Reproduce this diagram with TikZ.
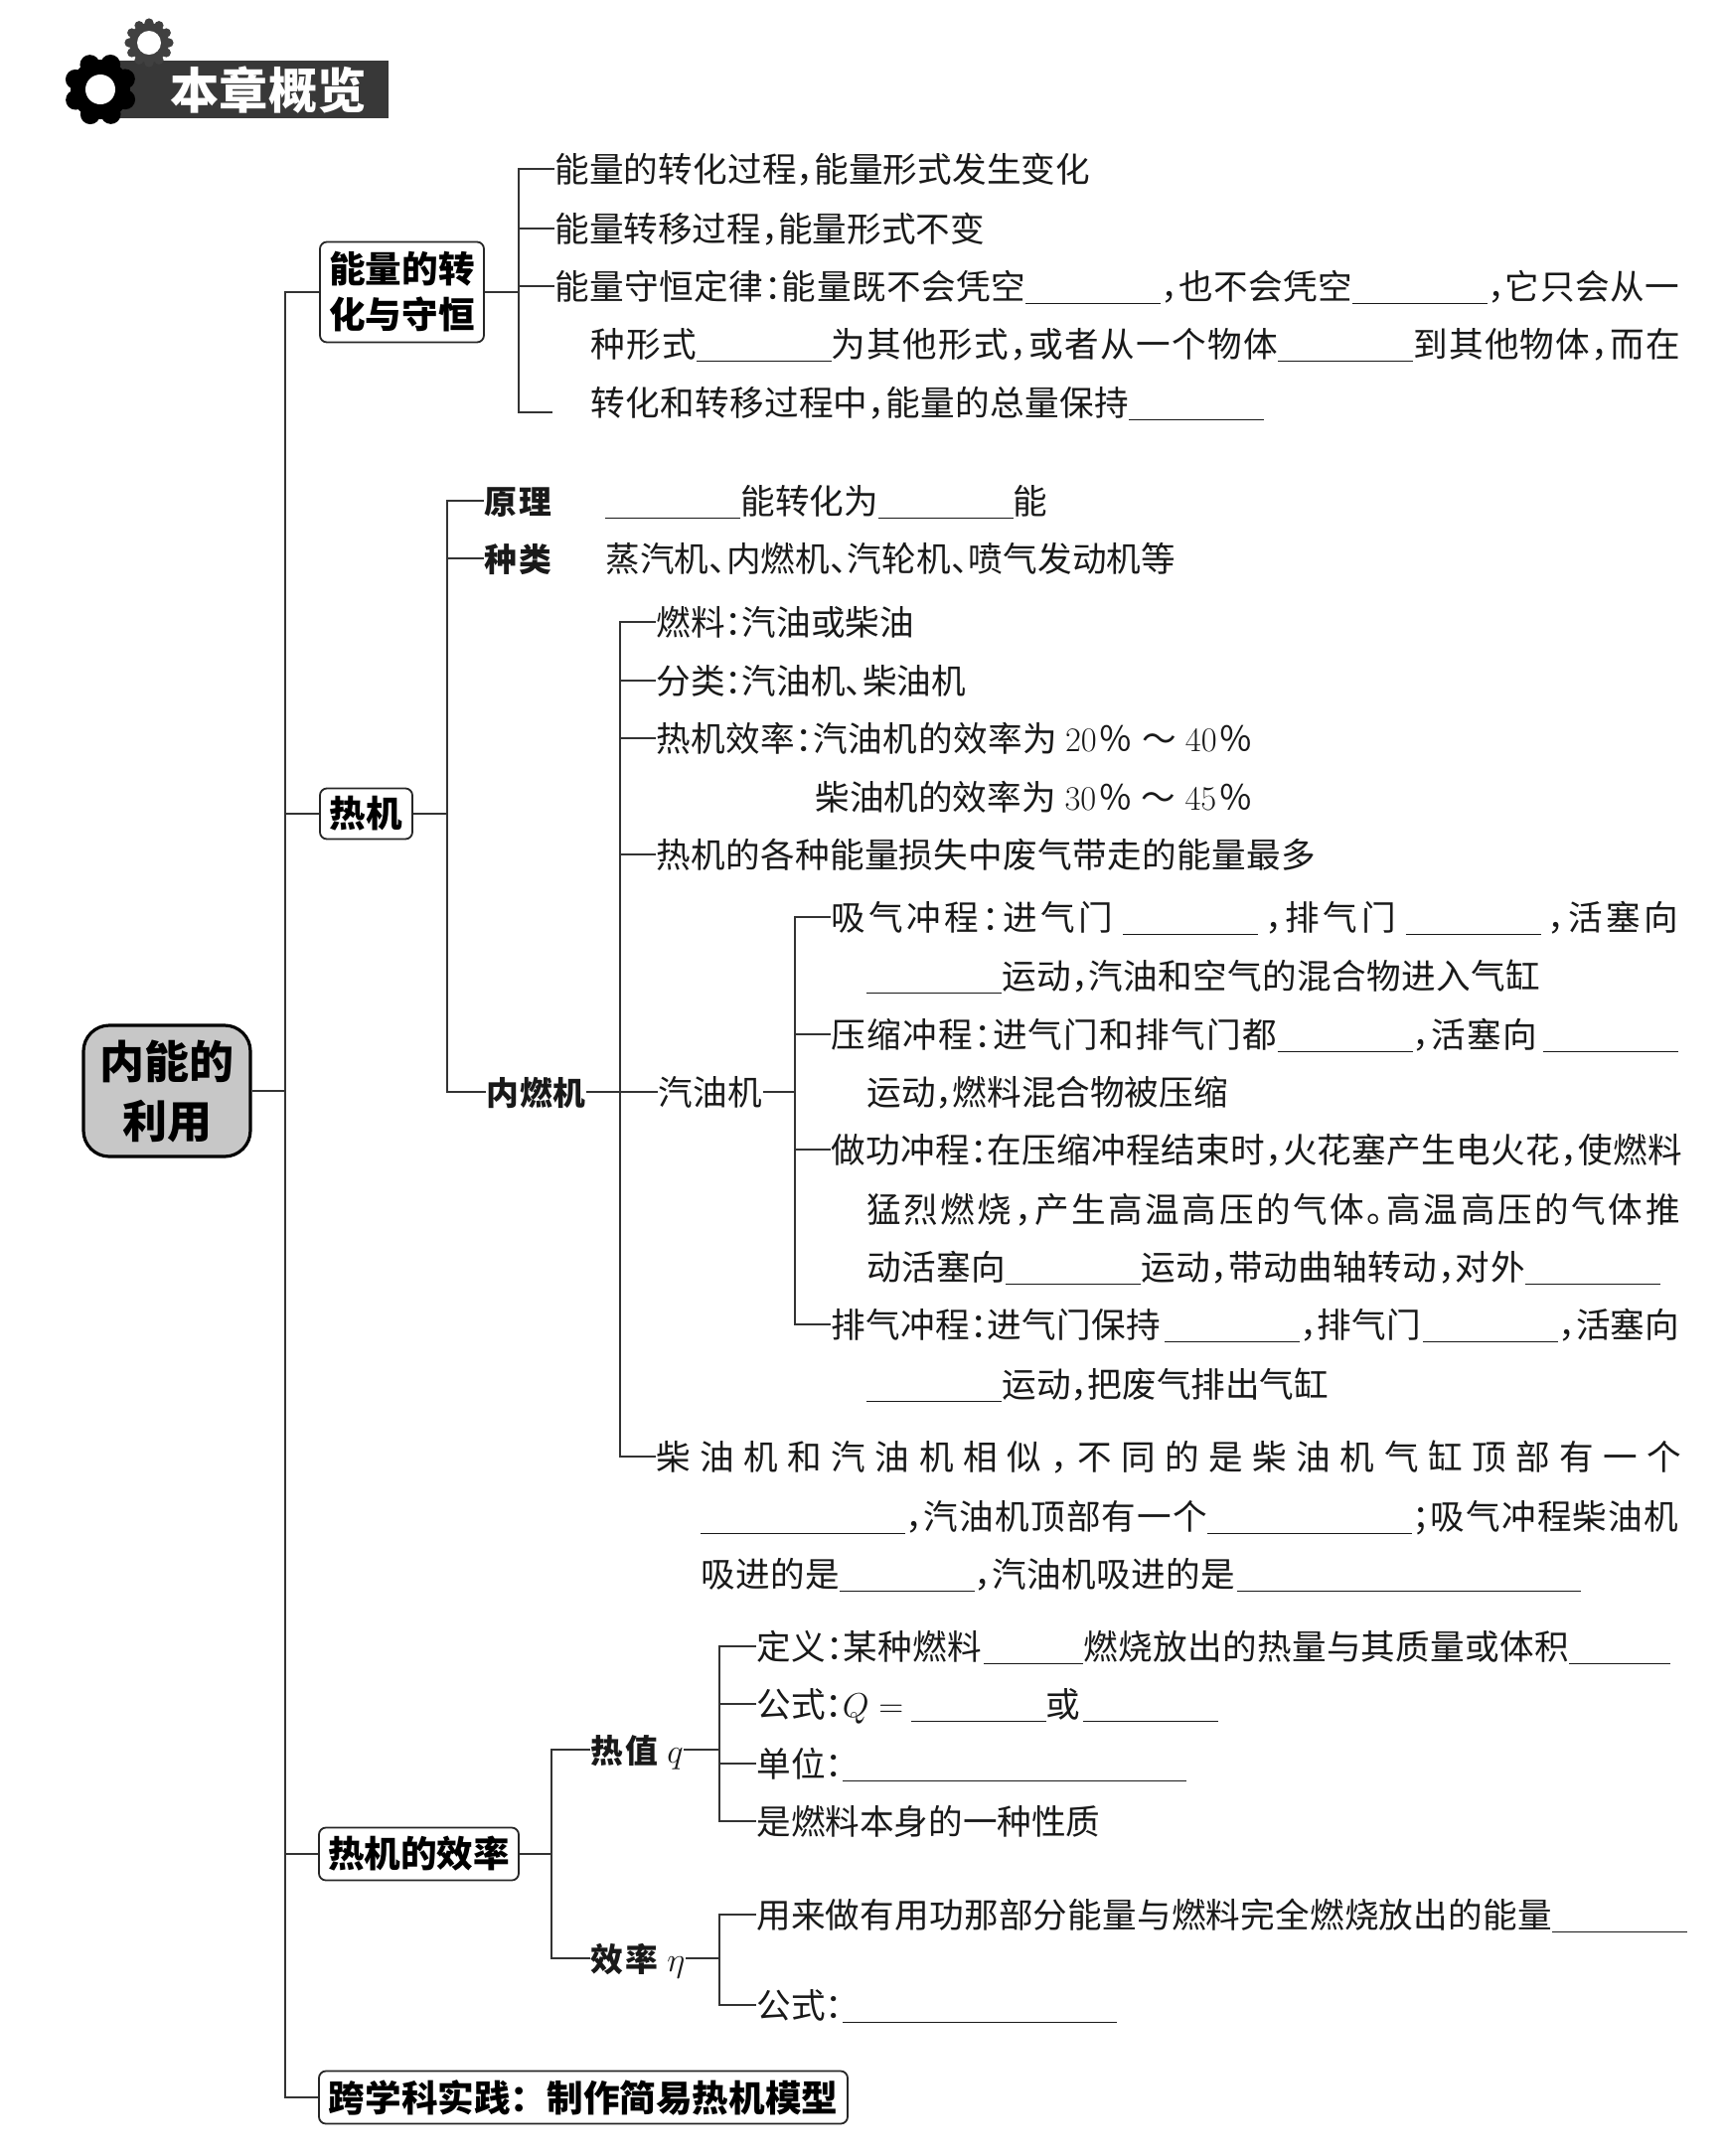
\documentclass[tikz,border=0pt]{standalone}
\usepackage{amsmath}
\usepackage{fontspec}
\newfontfamily\cjk[RawFeature=+halt]{Noto Sans CJK SC}
\newfontfamily\cjkfull{Noto Sans CJK SC}
\newcommand{\blank}[1]{\rule[-2.5pt]{#1}{0.6pt}}
\newcommand{\spread}[1]{\addfontfeature{LetterSpace=#1}}
\newcommand{\pct}[2]{{\rmfamily #1}\hspace{1pt}{\cjkfull ％}\hspace{4.5pt}{\cjkfull ～}\hspace{4.5pt}{\rmfamily #2}\hspace{1pt}{\cjkfull ％}}
\tikzset{
    bar/.style={line width=0.75pt, draw=black!80},
    txt/.style={anchor=west, inner sep=0pt, text height=13pt, text depth=0pt, text=black!90,
        font=\cjk\fontsize{17.3pt}{20pt}\selectfont},
    head/.style={txt, font=\cjk\bfseries\fontsize{16.4pt}{20pt}\selectfont},
    topic/.style={draw=black!85, line width=0.9pt, rounded corners=3.5pt, inner sep=0pt, align=center,
        font=\cjkfull\bfseries\fontsize{18.3pt}{23pt}\selectfont},
}

\begin{document}
\begin{tikzpicture}[x=0.5pt, y=-0.5pt]
    \useasboundingbox (0,0) rectangle (1736,2170);

    % Title banner
    \fill[black!78] (110,61) rectangle (391,119);
    \fill[black!75] (150,43) circle[radius=10pt];
    \foreach \a in {0,30,...,330}
        \fill[black!75] (150,43)++(\a:20) circle[radius=2.3pt];
    \fill[white] (150,43) circle[radius=6pt];
    \fill[black] (101,90) circle[radius=15pt];
    \foreach \a in {0,45,...,315}
        \fill[black] (101,90)++(\a+22:27) circle[radius=5pt];
    \fill[white] (101,90) circle[radius=7.5pt];
    \node[text=white, inner sep=0pt, font=\cjkfull\bfseries\fontsize{24.6pt}{28pt}\selectfont] (title) at (270,91) {本章概览};

    % Root
    \node[draw=black, fill=black!22, line width=1.6pt, rounded corners=13pt, minimum width=84pt, minimum height=66pt,
        inner sep=0pt, align=center, font=\cjkfull\bfseries\fontsize{22.5pt}{30.5pt}\selectfont] (root) at (168,1098) {\raisebox{-1.5pt}{内能的}\\\raisebox{-1pt}{利用}};

    % Topics
    \node[topic, minimum width=82.5pt, minimum height=50.5pt] (boxA) at (404.5,294) {能量的转\\化与守恒};
    \node[topic, minimum width=46.5pt, minimum height=25.5pt] (boxB) at (368.5,819) {热机};
    \node[topic, minimum width=100.5pt, minimum height=26.5pt] (boxC) at (421.5,1866) {热机的效率};
    \node[topic, minimum width=266pt, minimum height=26.5pt] (boxD) at (587,2111) {跨学科实践：制作简易热机模型};

    \coordinate (mainbus) at (287,1098);
    \draw[bar] (root) -- (mainbus);
    \foreach \n in {boxA,boxB,boxC,boxD}
        \draw[bar] (mainbus) |- (\n.west);

    % Energy conversion
    \node[txt] (a1) at (558,170) {\spread{0.5}能量的转化过程，能量形式发生变化};
    \node[txt] (a2) at (558,230) {能量转移过程，能量形式不变};
    \node[txt] (a3) at (558,288) {\spread{1.5}能量守恒定律：能量既不会凭空\blank{68pt}，也不会凭空\blank{68pt}，它只会从一};
    \node[txt] (a4) at (594,346) {\spread{4}种形式\blank{68pt}为其他形式，或者从一个物体\blank{68pt}到其他物体，而在};
    \node[txt] (a5) at (594,405) {\spread{1}转化和转移过程中，能量的总量保持\blank{68pt}};
    \coordinate (busA) at (522,294);
    \coordinate (stubA) at (556,415);
    \draw[bar] (boxA) -- (busA);
    \foreach \n in {a1,a2,a3}
        \draw[bar] (busA) |- (\n.west);
    \draw[bar] (busA) |- (stubA);

    % Heat engine
    \node[head] (b1) at (487,504) {\spread{6}原理};
    \node[head] (b2) at (487,562) {\spread{6}种类};
    \node[head] (b3) at (489,1099) {\spread{3}内燃机};
    \node[txt] (b1t) at (609,504) {\blank{68pt}能转化为\blank{68pt}能};
    \node[txt] (b2t) at (609,562) {\spread{0.5}蒸汽机、内燃机、汽轮机、喷气发动机等};
    \coordinate (busB) at (450,819);
    \draw[bar] (boxB) -- (busB);
    \foreach \n in {b1,b2,b3}
        \draw[bar] (busB) |- (\n.west);

    % Internal combustion engine
    \node[txt] (c1) at (660,626) {燃料：汽油或柴油};
    \node[txt] (c2) at (660,685) {分类：汽油机、柴油机};
    \node[txt] (c3) at (660,743) {\spread{1.5}热机效率：汽油机的效率为\hspace{4pt}\pct{20}{40}};
    \node[txt] (c3b) at (820,802) {柴油机的效率为\hspace{4.5pt}\pct{30}{45}};
    \node[txt] (c4) at (660,860) {\spread{1}热机的各种能量损失中废气带走的能量最多};
    \node[txt] (c5) at (662,1099) {\spread{2}汽油机};
    \node[txt] (c6) at (660,1466) {\spread{27.5}柴油机和汽油机相似，不同的是柴油机气缸顶部有一个};
    \node[txt] (c6b) at (705,1526) {\spread{3.5}\blank{103pt}，汽油机顶部有一个\blank{103pt}；吸气冲程柴油机};
    \node[txt] (c6c) at (705,1584) {\spread{1}吸进的是\blank{68pt}，汽油机吸进的是\hspace{1pt}\blank{173pt}};
    \coordinate (busC) at (624,1099);
    \draw[bar] (b3) -- (c5);
    \foreach \n in {c1,c2,c3,c4,c6}
        \draw[bar] (busC) |- (\n.west);

    % Petrol engine strokes
    \node[txt] (d1) at (836,923) {\spread{10}吸气冲程：进气门\hspace{5pt}\blank{68pt}\hspace{3.5pt}，排气门\hspace{5pt}\blank{68pt}\hspace{3.5pt}，活塞向};
    \node[txt] (d1b) at (872,982) {\spread{1}\blank{68pt}运动，汽油和空气的混合物进入气缸};
    \node[txt] (d2) at (836,1041) {\spread{4}压缩冲程：进气门和排气门都\blank{68pt}，活塞向\hspace{3pt}\blank{68pt}};
    \node[txt] (d2b) at (872,1099) {运动，燃料混合物被压缩};
    \node[txt] (d3) at (836,1157) {\spread{1}做功冲程：在压缩冲程结束时，火花塞产生电火花，使燃料};
    \node[txt] (d3b) at (872,1217) {\spread{7.5}猛烈燃烧，产生高温高压的气体。高温高压的气体推};
    \node[txt] (d3c) at (872,1275) {\spread{1.5}动活塞向\blank{68pt}运动，带动曲轴转动，对外\blank{68pt}};
    \node[txt] (d4) at (836,1333) {\spread{1}排气冲程：进气门保持\hspace{2pt}\blank{68pt}，排气门\hspace{1pt}\blank{68pt}，活塞向};
    \node[txt] (d4b) at (872,1393) {\blank{68pt}运动，把废气排出气缸};
    \coordinate (busD) at (800,1099);
    \draw[bar] (c5) -- (busD);
    \foreach \n in {d1,d2,d3,d4}
        \draw[bar] (busD) |- (\n.west);

    % Efficiency
    \node[head] (e1) at (594,1761) {\spread{6}热值 $q$};
    \node[head] (e2) at (594,1971) {\spread{6}效率 $\eta$};
    \coordinate (busE) at (555,1866);
    \draw[bar] (boxC) -- (busE);
    \foreach \n in {e1,e2}
        \draw[bar] (busE) |- (\n.west);

    \node[txt] (f1) at (761,1657) {\spread{1}定义：某种燃料\hspace{1pt}\blank{50pt}燃烧放出的热量与其质量或体积\blank{51pt}};
    \node[txt] (f2) at (761,1715) {公式：$Q=$\,\hspace{1pt}\blank{68pt}或\hspace{1pt}\blank{68pt}};
    \node[txt] (f3) at (761,1775) {单位：\blank{173pt}};
    \node[txt] (f4) at (761,1833) {是燃料本身的一种性质};
    \coordinate (busF) at (724,1761);
    \draw[bar] (e1) -- (busF);
    \foreach \n in {f1,f2,f3,f4}
        \draw[bar] (busF) |- (\n.west);

    \node[txt] (g1) at (761,1927) {\spread{0.6}用来做有用功那部分能量与燃料完全燃烧放出的能量\blank{68pt}};
    \node[txt] (g2) at (761,2018) {公式：\blank{138pt}};
    \coordinate (busG) at (724,1971);
    \draw[bar] (e2) -- (busG);
    \foreach \n in {g1,g2}
        \draw[bar] (busG) |- (\n.west);

\end{tikzpicture}
\end{document}
